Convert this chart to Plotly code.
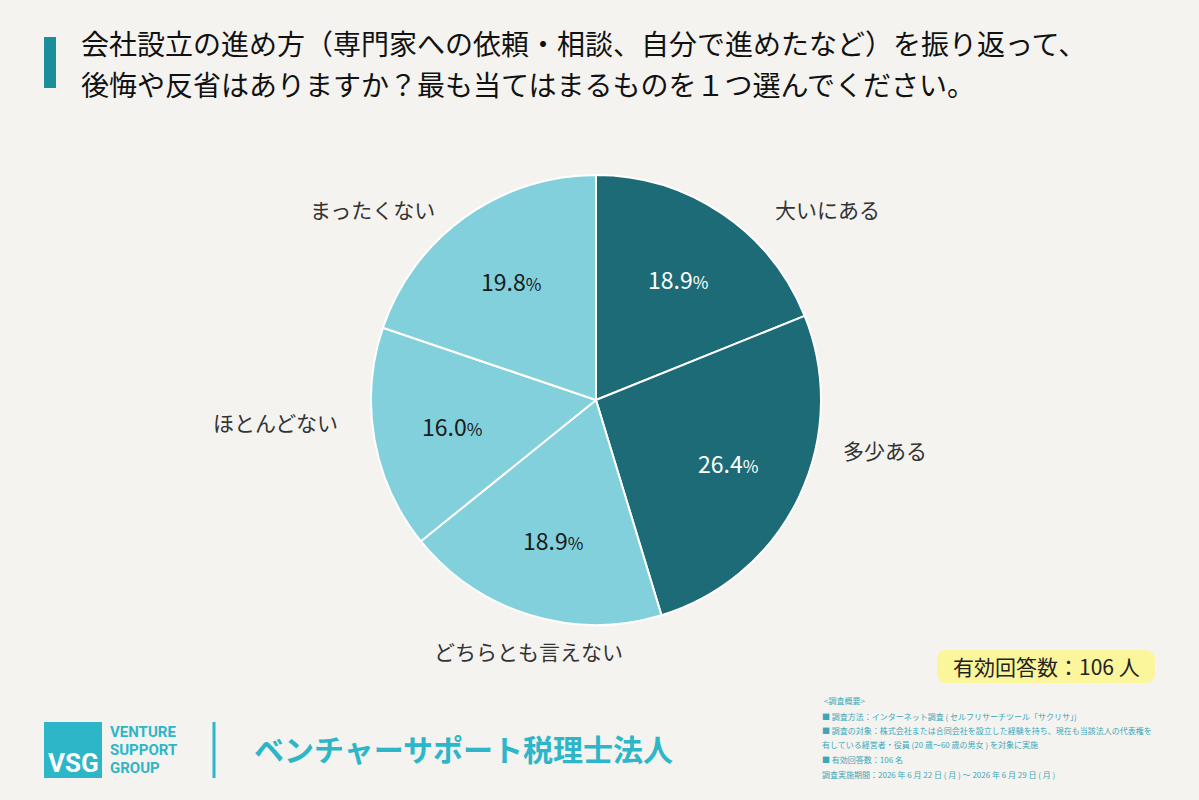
import math
import plotly.graph_objects as go

# ---- data ----
categories = ["大いにある", "多少ある", "どちらとも言えない", "ほとんどない", "まったくない"]
percentages = [18.9, 26.4, 18.9, 16.0, 19.8]
slice_colors = ["#1d6b77", "#1d6b77", "#81d0dc", "#81d0dc", "#81d0dc"]
text_colors = ["#ffffff", "#ffffff", "#1a1a1a", "#1a1a1a", "#1a1a1a"]

title_lines = ["会社設立の進め方（専門家への依頼・相談、自分で進めたなど）を振り返って、",
               "後悔や反省はありますか？最も当てはまるものを１つ選んでください。"]
respondents_text = "有効回答数：106 人"
notes_lines = [
    "<調査概要>",
    "■ 調査方法：インターネット調査 ( セルフリサーチツール「サクリサ」)",
    "■ 調査の対象：株式会社または合同会社を設立した経験を持ち、現在も当該法人の代表権を",
    "有している経営者・役員 (20 歳〜60 歳の男女 ) を対象に実施",
    "■ 有効回答数：106 名",
    "調査実施期間：2026 年 6 月 22 日 ( 月 ) 〜 2026 年 6 月 29 日 ( 月 )",
]

W, H = 1199, 800
BG = "#f4f3ef"
FONT = "Noto Sans CJK JP"
TEAL = "#2db6c8"

# pie geometry (pixels)
cx_px, cy_px, R_px = 596, 400, 225

fig = go.Figure()
fig.add_trace(go.Pie(
    labels=categories,
    values=percentages,
    sort=False,
    direction="clockwise",
    rotation=0,
    marker=dict(colors=slice_colors, line=dict(color="#ffffff", width=2)),
    textinfo="none",
    hoverinfo="label+percent",
    showlegend=False,
    domain=dict(x=[(cx_px - R_px) / W, (cx_px + R_px) / W],
                y=[1 - (cy_px + R_px) / H, 1 - (cy_px - R_px) / H]),
))

annotations = []
shapes = []

# percentage labels placed at slice mid-angles
total = sum(percentages)
cum = 0.0
for val, col in zip(percentages, text_colors):
    mid = (cum + val / 2) / total * 2 * math.pi
    cum += val
    r = 0.65 * R_px
    px = cx_px + r * math.sin(mid)
    py = cy_px - r * math.cos(mid)
    annotations.append(dict(
        x=px / W, y=1 - py / H, xref="paper", yref="paper",
        text=f"{val:.1f}<span style='font-size:17px'>%</span>",
        showarrow=False, xanchor="center", yanchor="middle",
        font=dict(family=FONT, size=23, color=col),
    ))

# category labels outside the pie
label_pos = [(827, 209), (885, 450), (528, 651), (275, 422), (372, 209)]
for name, (lx, ly) in zip(categories, label_pos):
    annotations.append(dict(
        x=lx / W, y=1 - ly / H, xref="paper", yref="paper", text=name,
        showarrow=False, xanchor="center", yanchor="middle",
        font=dict(family=FONT, size=21, color="#333333"),
    ))

# title (two separate lines)
for line, ty in zip(title_lines, [43.5, 83.5]):
    annotations.append(dict(
        x=79 / W, y=1 - ty / H, xref="paper", yref="paper", text=line,
        showarrow=False, xanchor="left", yanchor="middle", align="left",
        font=dict(family=FONT, size=28, color="#111111"),
    ))
shapes.append(dict(type="rect", xref="paper", yref="paper",
                   x0=44 / W, x1=56 / W, y0=1 - 88 / H, y1=1 - 37 / H,
                   fillcolor="#1a8e99", line=dict(width=0)))

# respondents box
shapes.append(dict(type="path", xref="paper", yref="paper",
                   path=" ".join([
                       f"M {(937+10)/W} {1-650/H}",
                       f"L {(1155-10)/W} {1-650/H}",
                       f"Q {1155/W} {1-650/H} {1155/W} {1-(650+10)/H}",
                       f"L {1155/W} {1-(683-10)/H}",
                       f"Q {1155/W} {1-683/H} {(1155-10)/W} {1-683/H}",
                       f"L {(937+10)/W} {1-683/H}",
                       f"Q {937/W} {1-683/H} {937/W} {1-(683-10)/H}",
                       f"L {937/W} {1-(650+10)/H}",
                       f"Q {937/W} {1-650/H} {(937+10)/W} {1-650/H} Z",
                   ]),
                   fillcolor="#fbf59b", line=dict(width=0)))
annotations.append(dict(
    x=1046 / W, y=1 - 666 / H, xref="paper", yref="paper", text=respondents_text,
    showarrow=False, xanchor="center", yanchor="middle",
    font=dict(family=FONT, size=21, color="#222222"),
))

# survey notes
note_y = [700, 716, 730, 744, 759, 774]
for line, ny in zip(notes_lines, note_y):
    annotations.append(dict(
        x=(822 if line.startswith("<") else 820) / W, y=1 - ny / H,
        xref="paper", yref="paper",
        text=line.replace("<", "&lt;").replace(">", "&gt;"),
        showarrow=False, xanchor="left", yanchor="middle",
        font=dict(family=FONT, size=8, color="#3ba7b9"),
    ))

# logo
shapes.append(dict(type="rect", xref="paper", yref="paper",
                   x0=44 / W, x1=102 / W, y0=1 - 778 / H, y1=1 - 722 / H,
                   fillcolor=TEAL, line=dict(width=0)))
annotations.append(dict(
    x=73 / W, y=1 - 763 / H, xref="paper", yref="paper", text="<b>VSG</b>",
    showarrow=False, xanchor="center", yanchor="middle",
    font=dict(family="Liberation Sans Narrow, Roboto", size=26, color="#ffffff"),
))
for t, ty in zip(["VENTURE", "SUPPORT", "GROUP"], [732, 750, 768]):
    annotations.append(dict(
        x=108 / W, y=1 - ty / H, xref="paper", yref="paper", text=f"<b>{t}</b>",
        showarrow=False, xanchor="left", yanchor="middle",
        font=dict(family="Liberation Sans Narrow, Roboto", size=15, color=TEAL),
    ))
shapes.append(dict(type="line", xref="paper", yref="paper",
                   x0=214 / W, x1=214 / W, y0=1 - 778 / H, y1=1 - 722 / H,
                   line=dict(color=TEAL, width=3)))
annotations.append(dict(
    x=252 / W, y=1 - 748 / H, xref="paper", yref="paper",
    text="<b>ベンチャーサポート税理士法人</b>",
    showarrow=False, xanchor="left", yanchor="middle",
    font=dict(family=FONT, size=30, color=TEAL),
))

fig.update_layout(
    width=W, height=H,
    margin=dict(l=0, r=0, t=0, b=0),
    paper_bgcolor=BG, plot_bgcolor=BG,
    annotations=annotations, shapes=shapes,
    font=dict(family=FONT),
)

fig.write_html("out.html", config={"displayModeBar": False})
